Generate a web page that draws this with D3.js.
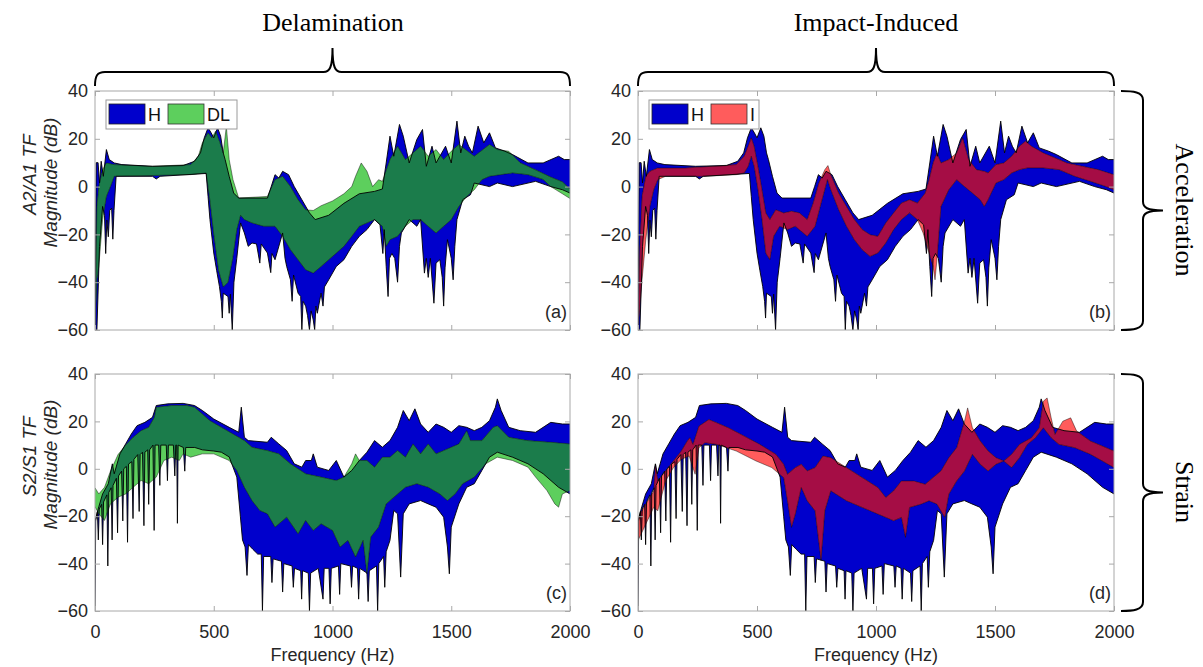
<!DOCTYPE html>
<html>
<head>
<meta charset="utf-8">
<script src="https://cdn.jsdelivr.net/npm/d3@7"></script>
<style>
  body { margin: 0; background: #fff; }
</style>
</head>
<body>
<div id="chart"></div>
<script>
// ---------------- data (frequency Hz, magnitude dB) ----------------

var freqTicks = [0, 500, 1000, 1500, 2000];
var magTicks = [-60, -40, -20, 0, 20, 40];

// healthy acceleration TF envelope (panels a and b)
var accelHealthyUpper = [[0,-60],[5,10],[13,10],[19,1.5],[26,10.6],[35,4.3],[48,15.5],[60,11.3],[81,9.9],[113,9.2],[242,8.5],[371,8.8],[419,10.6],[444,14.1],[460,20.4],[476,24.6],[489,22.5],[500,20.4],[516,24.6],[529,21.1],[540,14.1],[548,11.3],[565,4.3],[584,-2.7],[605,-4.8],[726,-4.8],[742,0],[758,5],[774,3.6],[790,6.4],[815,5],[839,0],[871,-5.5],[903,-11],[927,-13.8],[984,-12],[1048,-7],[1113,-3],[1177,-2],[1210,-1],[1226,9.9],[1242,21.1],[1258,12.7],[1282,26],[1298,21.1],[1323,9.9],[1355,19.7],[1379,23.9],[1395,8.5],[1419,16.9],[1436,9.9],[1476,16.9],[1500,9.9],[1524,27.4],[1540,14.1],[1557,21.1],[1573,16.9],[1589,14.1],[1613,25.3],[1637,18.3],[1661,22.5],[1686,16.2],[1726,14.8],[1758,13.4],[1823,9.9],[1887,9.9],[1952,12.7],[1976,11.3],[2000,11.3]];
var accelHealthyLower = [[0,-60],[8,-60],[19,-25],[32,-8.3],[40,-12],[45,-28],[50,-14],[56,-21],[62,-10],[70,-9],[75,-22],[80,-10],[89,4.3],[242,4.3],[258,3.2],[274,4.3],[468,5.5],[476,-4.1],[484,-13.8],[500,-27.8],[512,-35],[524,-41.8],[532,-48.1],[536,-55],[540,-44.6],[560,-46],[565,-53],[570,-45],[578,-60],[585,-40],[597,-30],[613,-15.2],[629,-19.4],[645,-25],[661,-23.6],[680,-24],[694,-32],[700,-24],[726,-27.8],[740,-36],[745,-28],[758,-30.6],[790,-19.4],[800,-30],[807,-33.4],[823,-39],[830,-48],[836,-37],[855,-44.6],[866,-46],[871,-60],[876,-48],[887,-50],[895,-54],[903,-60],[910,-52],[919,-55.8],[925,-60],[930,-50],[936,-53],[952,-44.6],[960,-50],[966,-42],[984,-39],[1016,-33.4],[1048,-30.6],[1081,-25],[1113,-20.8],[1145,-18],[1177,-13.8],[1200,-16],[1212,-28],[1218,-18],[1226,-33.4],[1234,-46],[1240,-30],[1250,-28],[1262,-30],[1274,-40],[1282,-25],[1290,-19.4],[1323,-13.8],[1355,-16.6],[1371,-13.8],[1387,-36.2],[1395,-30],[1403,-38],[1412,-30],[1427,-48.8],[1436,-32],[1452,-30.6],[1462,-38],[1468,-50],[1474,-34],[1484,-22.2],[1500,-30],[1508,-39],[1515,-25],[1524,-13.8],[1548,-5.5],[1581,-3.4],[1597,1.5],[1661,0],[1694,1.5],[1758,0],[1855,2.2],[1919,0],[1968,-1.3],[2000,-2.7]];

// delaminated acceleration TF envelope (panel a)
var accelDelamUpper = [[0,-60],[8,-8.3],[16,0],[32,7.1],[48,9.9],[81,9.2],[242,8.5],[403,9.2],[435,12.7],[452,18.3],[476,22.5],[492,20.4],[508,23.2],[524,19],[540,14.1],[553,25.3],[565,11.3],[581,2.9],[605,-4.8],[726,-4.1],[758,2.9],[790,4.3],[823,0],[855,-5.5],[887,-9.7],[919,-10],[952,-8],[1000,-6],[1048,-3],[1081,0],[1097,4.3],[1121,9.9],[1145,6.4],[1169,0],[1194,2.9],[1210,2.2],[1242,11.3],[1274,16.9],[1307,11.3],[1339,14.1],[1371,16.9],[1403,12.7],[1436,15.5],[1468,11.3],[1500,14.8],[1532,17.6],[1597,12.7],[1661,17.6],[1694,15.5],[1742,14.8],[1790,10],[1855,7],[1919,4],[1968,2],[2000,-1]];
var accelDelamLower = [[0,-60],[8,-39],[16,-33.4],[32,-13.8],[48,-4.1],[65,0],[81,4.3],[403,5],[468,5.7],[484,-6],[500,-20],[520,-35],[540,-42],[560,-40],[580,-30],[597,-18],[613,-12],[629,-13.8],[661,-15.2],[710,-16.6],[758,-16.6],[790,-20.8],[823,-26.4],[855,-30.6],[887,-34.8],[919,-36.2],[952,-33.4],[984,-30.6],[1016,-27.8],[1048,-25],[1081,-20.8],[1113,-16.6],[1145,-15.2],[1177,-13.8],[1210,-16.6],[1226,-25],[1242,-22.2],[1274,-20.8],[1307,-16.6],[1339,-13.8],[1371,-13.8],[1403,-16.6],[1436,-19.4],[1468,-16.6],[1500,-13.8],[1532,-8.3],[1565,-4.1],[1597,-1.3],[1629,2.9],[1661,4.3],[1758,5.7],[1823,5],[1887,3],[1919,0],[1968,-3],[2000,-5]];

// impact-damaged acceleration TF envelope (panel b)
var accelImpactUpper = [[0,-60],[8,-25],[17,-4],[33,4.3],[50,6.4],[83,7.8],[198,7.8],[281,8.3],[413,9.2],[446,12.7],[463,16.9],[476,20.4],[488,16.9],[504,8.5],[521,-1.3],[537,-11],[554,-13.8],[579,-9.7],[612,-11],[645,-10.3],[678,-11],[711,-13.8],[736,-6.9],[760,1.5],[785,7.1],[798,8.8],[810,5],[843,-2.7],[876,-8.3],[909,-13.8],[942,-18],[975,-20.1],[1008,-20.8],[1041,-15.2],[1074,-11],[1107,-6.9],[1141,-5.5],[1174,-6.9],[1207,-2.7],[1223,2.9],[1240,9.9],[1256,14.1],[1273,9.9],[1306,11.3],[1339,14.1],[1364,20.4],[1389,11.3],[1422,7.1],[1455,6.4],[1471,5.7],[1504,9.2],[1537,9.9],[1570,12.7],[1603,16.9],[1628,19],[1653,16.9],[1703,14.1],[1769,11.3],[1802,9.9],[1868,8.5],[1934,7.1],[2000,5]];
var accelImpactLower = [[0,-60],[17,-39],[33,-22],[50,-8.3],[66,-1.3],[83,2.9],[116,4.3],[281,4.3],[413,5],[446,5.7],[463,8.5],[476,12.7],[488,8.5],[504,-1.3],[521,-13.8],[537,-27.8],[554,-30.6],[570,-20.8],[595,-16.6],[628,-18],[661,-16.6],[711,-20.8],[744,-16.6],[777,-4.1],[796,2.9],[810,-1.3],[843,-9.7],[876,-16.6],[909,-22.2],[942,-26.4],[975,-29.2],[1008,-27.8],[1041,-23.6],[1074,-18],[1107,-13.8],[1141,-11],[1174,-13.8],[1198,-19.4],[1223,-27.8],[1240,-33.4],[1248,-39],[1256,-30.6],[1273,-8.3],[1306,-1.3],[1339,2.9],[1372,0],[1405,-2.7],[1438,-5.5],[1455,-8.3],[1471,-5.5],[1504,1.5],[1537,2.9],[1570,5.7],[1603,7.1],[1636,7.8],[1703,7.8],[1769,7.1],[1835,4.3],[1901,2.2],[1967,0],[2000,-1.3]];

// healthy strain TF envelope (panels c and d)
var strainHealthyUpper = [[0,-22],[16,-16],[32,-10.6],[56,-6.3],[73,2.1],[81,-2.1],[105,6.3],[129,10.5],[153,14.7],[177,18.2],[210,19.6],[242,21.7],[258,26.7],[306,27.4],[371,27.6],[419,26.7],[452,24.6],[500,21],[565,17.5],[605,15.4],[616,26],[629,13.3],[645,11.9],[726,11.2],[742,13.3],[774,10.5],[807,7.7],[839,2.1],[871,0.7],[887,3.5],[911,3.5],[919,6.3],[936,0.7],[984,-0.7],[1016,3.5],[1048,-3.5],[1081,-0.7],[1113,3.5],[1145,7],[1177,11.9],[1210,9.1],[1242,11.9],[1274,17.5],[1298,24.6],[1323,20.3],[1347,25.3],[1371,18.9],[1403,15.4],[1436,18.9],[1468,17.5],[1500,15.4],[1532,18.2],[1565,17.5],[1597,16.1],[1629,17.5],[1661,20.3],[1686,26],[1694,29.5],[1710,24.6],[1742,17.5],[1790,16.1],[1855,15.4],[1919,19.6],[1968,18.9],[2000,18.9]];
var strainHealthyLower = [[0,-60],[3,-22],[10,-18],[14,-30],[18,-17],[28,-15],[32,-32],[36,-14],[50,-11],[54,-41],[58,-10],[68,-8],[72,-30],[76,-7],[90,-4],[95,-27],[99,-3],[112,-1],[117,-22],[121,0],[132,1],[137,-31],[141,2],[155,3],[160,-21],[164,4],[180,6],[186,-18],[190,6],[200,7],[206,-24],[210,7],[222,8],[226,-15],[230,8],[244,10],[249,-26],[253,10],[268,10],[273,-7],[277,10],[300,10],[305,-5],[309,10],[330,10],[336,-3],[340,10],[344,10],[347,-23],[350,10],[372,9],[378,-1],[382,9],[420,9],[452,8],[500,7.5],[532,7],[565,5],[597,-3.5],[612,-20],[621,-30],[632,-33],[640,-45],[646,-32],[665,-34],[685,-36],[700,-36],[705,-60],[710,-37],[740,-37],[745,-48],[750,-38],[785,-39],[790,-52],[795,-40],[830,-41],[835,-50],[840,-42],[866,-43],[870,-55],[874,-43],[898,-44],[903,-60],[908,-44],[940,-42],[960,-55],[965,-42],[985,-42],[990,-57],[995,-42],[1025,-41],[1030,-53],[1035,-40],[1075,-41],[1080,-50],[1085,-41],[1105,-42],[1110,-55],[1115,-42],[1145,-44],[1150,-56],[1155,-43],[1185,-41],[1190,-60],[1195,-40],[1215,-37],[1220,-50],[1226,-35],[1242,-30.2],[1258,-17.6],[1274,-19],[1287,-45.7],[1298,-19],[1323,-14.8],[1371,-13.4],[1403,-14.8],[1436,-16.2],[1468,-20.4],[1484,-33],[1492,-44.3],[1500,-24.6],[1532,-14.8],[1565,-7.8],[1597,-6.3],[1629,-0.7],[1661,4.9],[1694,7],[1758,4.9],[1823,2.1],[1887,-2.1],[1952,-7.8],[2000,-10.6]];

// delaminated strain TF envelope (panel c)
var strainDelamUpper = [[0,-8],[16,-10.6],[40,-7.8],[65,-1],[97,6],[129,10],[161,13.3],[194,16.1],[226,17.5],[250,21.7],[258,26],[323,26.7],[387,26.7],[419,26],[452,23.1],[484,20.3],[532,17.5],[581,14.7],[629,11.9],[661,9.1],[726,7.7],[774,6.3],[823,2.1],[887,-2.1],[952,-3.5],[1016,-4.9],[1048,-3.5],[1081,2.1],[1097,6.3],[1113,3.5],[1145,3.5],[1177,0.7],[1210,4.9],[1242,4.9],[1274,7.7],[1307,4.9],[1339,10.5],[1371,6.3],[1403,10.5],[1436,6.3],[1468,7.7],[1500,9.1],[1532,10.5],[1565,16.1],[1581,11.9],[1629,11.9],[1677,17.5],[1694,18.2],[1742,13.3],[1823,11.9],[1919,11.2],[2000,10.5]];
var strainDelamLower = [[0,-16],[16,-19],[40,-21.8],[65,-14.8],[97,-12],[129,-10.6],[161,-7.8],[194,-4.9],[226,-6.3],[258,-3.5],[290,3.5],[323,4.9],[355,3.5],[371,6.3],[403,4.9],[452,6.3],[500,6.3],[565,3.5],[597,-0.7],[629,-7.8],[661,-13.4],[694,-17.6],[726,-19],[758,-24.6],[807,-20.4],[855,-27.4],[887,-21.8],[919,-26],[952,-23.2],[1000,-26],[1032,-33],[1065,-30.2],[1097,-37.2],[1129,-30.2],[1145,-44.3],[1161,-28.8],[1194,-24.6],[1226,-14.8],[1258,-12],[1307,-7.8],[1355,-6.3],[1403,-7.8],[1452,-10.6],[1484,-13.4],[1516,-10.6],[1548,-6.3],[1597,-3.5],[1645,2.1],[1694,4.9],[1758,3.5],[1823,0.7],[1855,-3.5],[1903,-9.2],[1936,-14.8],[1952,-16.2],[1968,-10.6],[2000,-9.2]];

// impact-damaged strain TF envelope (panel d)
var strainImpactUpper = [[0,-20.5],[33,-14.9],[66,-9.3],[74,1.9],[83,-5.1],[116,-0.9],[149,3.3],[182,7.5],[207,11.7],[218,13.1],[231,10.3],[256,18],[298,20.8],[331,19.4],[380,17.3],[446,13.8],[512,10.3],[579,6.1],[612,1.9],[628,-2.3],[661,0.5],[686,1.9],[711,-0.9],[744,0.5],[777,5.4],[810,4.7],[876,0.5],[942,-3.7],[1008,-7.9],[1041,-12.1],[1074,-9.3],[1107,-5.1],[1157,-5.1],[1207,-6.5],[1240,-3.7],[1273,-0.9],[1306,4.7],[1339,8.9],[1372,20.1],[1385,25.7],[1405,17.3],[1438,11.7],[1471,7.5],[1504,4.7],[1537,3.3],[1570,6.1],[1603,10.3],[1653,13.1],[1686,17.3],[1703,28.5],[1719,29.9],[1736,21.5],[1752,14.5],[1785,20.1],[1818,21.5],[1843,15.9],[1901,11.7],[1951,9.6],[2000,7.5]];
var strainImpactLower = [[0,-30.3],[33,-23.3],[66,-16.3],[83,-17.7],[116,-5.1],[149,0.5],[182,4],[215,5.4],[240,-2.3],[256,8.9],[281,11],[331,10.3],[413,7.5],[496,3.3],[562,0.5],[612,-3.7],[628,-13.5],[645,-24.7],[661,-19.1],[686,-7.9],[711,-13.5],[744,-17.7],[769,-38.7],[785,-17.7],[810,-9.3],[876,-13.5],[942,-16.3],[1008,-19.1],[1074,-21.9],[1107,-20.5],[1124,-28.9],[1141,-16.3],[1190,-14.9],[1223,-13.5],[1256,-14.9],[1289,-20.5],[1306,-10.7],[1339,-5.1],[1372,-0.9],[1405,6.1],[1438,1.9],[1471,-0.9],[1504,1.9],[1537,3.3],[1570,0.5],[1603,4.7],[1636,10.3],[1670,13.1],[1703,17.3],[1736,13.1],[1769,10.3],[1835,8.9],[1901,6.1],[1951,3.3],[2000,0.5]];

// ---------------- layout ----------------

var width = 1203;
var height = 667;

var blue = "#0000cc";
var axisGray = "#a8a8a8";
var textGray = "#262626";
var sansFont = "'Liberation Sans', Arial, sans-serif";
var serifFont = "'Liberation Serif', 'Times New Roman', serif";

var svg = d3.select("#chart")
  .append("svg")
  .attr("width", width)
  .attr("height", height);

var defs = svg.append("defs");

var panels = [
  { id: "a", left: 95, right: 570, top: 91, bottom: 330,
    baseUp: accelHealthyUpper, baseLo: accelHealthyLower,
    damUp: accelDelamUpper, damLo: accelDelamLower,
    light: "#5dcf5d", dark: "#1b7c4b", legend: "DL", legendW: 131,
    ylab1: "A2/A1 TF", showX: false },
  { id: "b", left: 638, right: 1114, top: 91, bottom: 330,
    baseUp: accelHealthyUpper, baseLo: accelHealthyLower,
    damUp: accelImpactUpper, damLo: accelImpactLower,
    light: "#ff5c5c", dark: "#a50d45", legend: "I", legendW: 110,
    ylab1: null, showX: false },
  { id: "c", left: 95, right: 570, top: 374, bottom: 611,
    baseUp: strainHealthyUpper, baseLo: strainHealthyLower,
    damUp: strainDelamUpper, damLo: strainDelamLower,
    light: "#5dcf5d", dark: "#1b7c4b", legend: null,
    ylab1: "S2/S1 TF", showX: true },
  { id: "d", left: 638, right: 1114, top: 374, bottom: 611,
    baseUp: strainHealthyUpper, baseLo: strainHealthyLower,
    damUp: strainImpactUpper, damLo: strainImpactLower,
    light: "#ff5c5c", dark: "#a50d45", legend: null,
    ylab1: null, showX: true }
];

function bandPoints(upper, lower) {
  return upper.concat(lower.slice().reverse());
}

function styleAxis(g) {
  g.select(".domain").remove();
  g.selectAll(".tick line").attr("stroke", axisGray);
  g.selectAll(".tick text")
    .attr("fill", textGray)
    .style("font-family", sansFont)
    .style("font-size", "18px");
}

function drawPanel(p) {
  var x = d3.scaleLinear().domain([0, 2000]).range([p.left, p.right]);
  var y = d3.scaleLinear().domain([-60, 40]).range([p.bottom, p.top]);

  var line = d3.line()
    .x(function(d) { return x(d[0]); })
    .y(function(d) { return y(d[1]); });

  var basePath = line(bandPoints(p.baseUp, p.baseLo)) + "Z";
  var damPath = line(bandPoints(p.damUp, p.damLo)) + "Z";

  defs.append("clipPath").attr("id", "plot-" + p.id)
    .append("rect")
    .attr("x", p.left).attr("y", p.top)
    .attr("width", p.right - p.left).attr("height", p.bottom - p.top);

  defs.append("clipPath").attr("id", "base-" + p.id)
    .append("path").attr("d", basePath);

  var plot = svg.append("g").attr("clip-path", "url(#plot-" + p.id + ")");

  // healthy band
  plot.append("path").attr("d", basePath).attr("fill", blue);

  // damaged band, light where alone, dark where it overlaps the healthy one
  plot.append("path").attr("d", damPath).attr("fill", p.light);
  plot.append("g").attr("clip-path", "url(#base-" + p.id + ")")
    .append("path").attr("d", damPath).attr("fill", p.dark);

  // envelope edges
  [p.baseUp, p.baseLo].forEach(function(arr) {
    plot.append("path").attr("d", line(arr))
      .attr("fill", "none").attr("stroke", "#000")
      .attr("stroke-width", 0.9).attr("stroke-linejoin", "round");
  });
  [p.damUp, p.damLo].forEach(function(arr) {
    plot.append("path").attr("d", line(arr))
      .attr("fill", "none").attr("stroke", "#000").attr("stroke-opacity", 0.55)
      .attr("stroke-width", 0.8).attr("stroke-linejoin", "round");
  });

  // axes (inward ticks on all four sides)
  svg.append("g")
    .attr("transform", "translate(0," + p.bottom + ")")
    .call(d3.axisBottom(x).tickValues(freqTicks).tickSize(-5).tickPadding(14)
      .tickFormat(p.showX ? d3.format("d") : function() { return ""; }))
    .call(styleAxis);
  svg.append("g")
    .attr("transform", "translate(0," + p.top + ")")
    .call(d3.axisTop(x).tickValues(freqTicks).tickSize(-5).tickFormat(function() { return ""; }))
    .call(styleAxis);
  svg.append("g")
    .attr("transform", "translate(" + p.left + ",0)")
    .call(d3.axisLeft(y).tickValues(magTicks).tickSize(-5).tickPadding(7))
    .call(styleAxis);
  svg.append("g")
    .attr("transform", "translate(" + p.right + ",0)")
    .call(d3.axisRight(y).tickValues(magTicks).tickSize(-5).tickFormat(function() { return ""; }))
    .call(styleAxis);

  svg.append("rect")
    .attr("x", p.left).attr("y", p.top)
    .attr("width", p.right - p.left).attr("height", p.bottom - p.top)
    .attr("fill", "none").attr("stroke", axisGray).attr("stroke-width", 1);

  svg.append("text")
    .attr("x", p.right - 3).attr("y", p.bottom - 12)
    .attr("text-anchor", "end")
    .attr("fill", textGray)
    .style("font-family", sansFont).style("font-size", "18px")
    .text("(" + p.id + ")");

  if (p.showX) {
    svg.append("text")
      .attr("x", (p.left + p.right) / 2).attr("y", 661)
      .attr("text-anchor", "middle")
      .attr("fill", textGray)
      .style("font-family", sansFont).style("font-size", "18px")
      .text("Frequency (Hz)");
  }

  if (p.ylab1) {
    var cy = (p.top + p.bottom) / 2 - 32;
    svg.append("text")
      .attr("transform", "translate(36," + (cy - 4) + ") rotate(-90)")
      .attr("text-anchor", "middle")
      .attr("fill", textGray)
      .style("font-family", sansFont).style("font-size", "19px").style("font-style", "italic")
      .text(p.ylab1);
    svg.append("text")
      .attr("transform", "translate(57," + (cy + 4) + ") rotate(-90)")
      .attr("text-anchor", "middle")
      .attr("fill", textGray)
      .style("font-family", sansFont).style("font-size", "19px").style("font-style", "italic")
      .text("Magnitude (dB)");
  }

  if (p.legend) {
    var lg = svg.append("g").attr("transform", "translate(" + (p.left + 11) + "," + (p.top + 9) + ")");
    lg.append("rect")
      .attr("width", p.legendW).attr("height", 29)
      .attr("fill", "#fff").attr("stroke", "#9a9a9a").attr("stroke-width", 1);
    lg.append("rect").attr("x", 3).attr("y", 4).attr("width", 36).attr("height", 20)
      .attr("fill", blue).attr("stroke", "#222").attr("stroke-width", 0.8);
    lg.append("text").attr("x", 42).attr("y", 21)
      .attr("fill", "#111")
      .style("font-family", sansFont).style("font-size", "18px").text("H");
    lg.append("rect").attr("x", 62).attr("y", 4).attr("width", 36).attr("height", 20)
      .attr("fill", p.light).attr("stroke", "#333").attr("stroke-width", 0.8);
    lg.append("text").attr("x", 101).attr("y", 21)
      .attr("fill", "#111")
      .style("font-family", sansFont).style("font-size", "18px").text(p.legend);
  }
}

panels.forEach(drawPanel);

// ---------------- group braces and titles ----------------

function topBrace(x0, x1) {
  var xm = (x0 + x1) / 2;
  var yb = 72;
  return "M" + x0 + ",86 C" + x0 + ",76 " + (x0 + 2) + "," + yb + " " + (x0 + 10) + "," + yb +
    " L" + (xm - 9) + "," + yb +
    " C" + (xm - 3) + "," + yb + " " + xm + "," + (yb - 4) + " " + xm + "," + (yb - 24) +
    " C" + xm + "," + (yb - 4) + " " + (xm + 3) + "," + yb + " " + (xm + 9) + "," + yb +
    " L" + (x1 - 10) + "," + yb +
    " C" + (x1 - 2) + "," + yb + " " + x1 + ",76 " + x1 + ",86";
}

function sideBrace(y0, y1) {
  var ym = (y0 + y1) / 2;
  var xb = 1143;
  return "M1121," + y0 + " C1133," + y0 + " " + xb + "," + (y0 + 1) + " " + xb + "," + (y0 + 9) +
    " L" + xb + "," + (ym - 9) +
    " C" + xb + "," + (ym - 3) + " " + (xb + 4) + "," + ym + " " + (xb + 20) + "," + ym +
    " C" + (xb + 4) + "," + ym + " " + xb + "," + (ym + 3) + " " + xb + "," + (ym + 9) +
    " L" + xb + "," + (y1 - 9) +
    " C" + xb + "," + (y1 - 1) + " 1133," + y1 + " 1121," + y1;
}

var groups = svg.append("g");

groups.append("path").attr("d", topBrace(95, 570))
  .attr("fill", "none").attr("stroke", "#000").attr("stroke-width", 2);
groups.append("path").attr("d", topBrace(638, 1114))
  .attr("fill", "none").attr("stroke", "#000").attr("stroke-width", 2);
groups.append("path").attr("d", sideBrace(91, 330))
  .attr("fill", "none").attr("stroke", "#000").attr("stroke-width", 2);
groups.append("path").attr("d", sideBrace(374, 611))
  .attr("fill", "none").attr("stroke", "#000").attr("stroke-width", 2);

groups.append("text").attr("x", 333).attr("y", 31)
  .attr("text-anchor", "middle")
  .style("font-family", serifFont).style("font-size", "26px")
  .text("Delamination");
groups.append("text").attr("x", 876).attr("y", 31)
  .attr("text-anchor", "middle")
  .style("font-family", serifFont).style("font-size", "26px")
  .text("Impact-Induced");
groups.append("text")
  .attr("transform", "translate(1176,210) rotate(90)")
  .attr("text-anchor", "middle")
  .style("font-family", serifFont).style("font-size", "26px")
  .text("Acceleration");
groups.append("text")
  .attr("transform", "translate(1176,492) rotate(90)")
  .attr("text-anchor", "middle")
  .style("font-family", serifFont).style("font-size", "26px")
  .text("Strain");
</script>
</body>
</html>
